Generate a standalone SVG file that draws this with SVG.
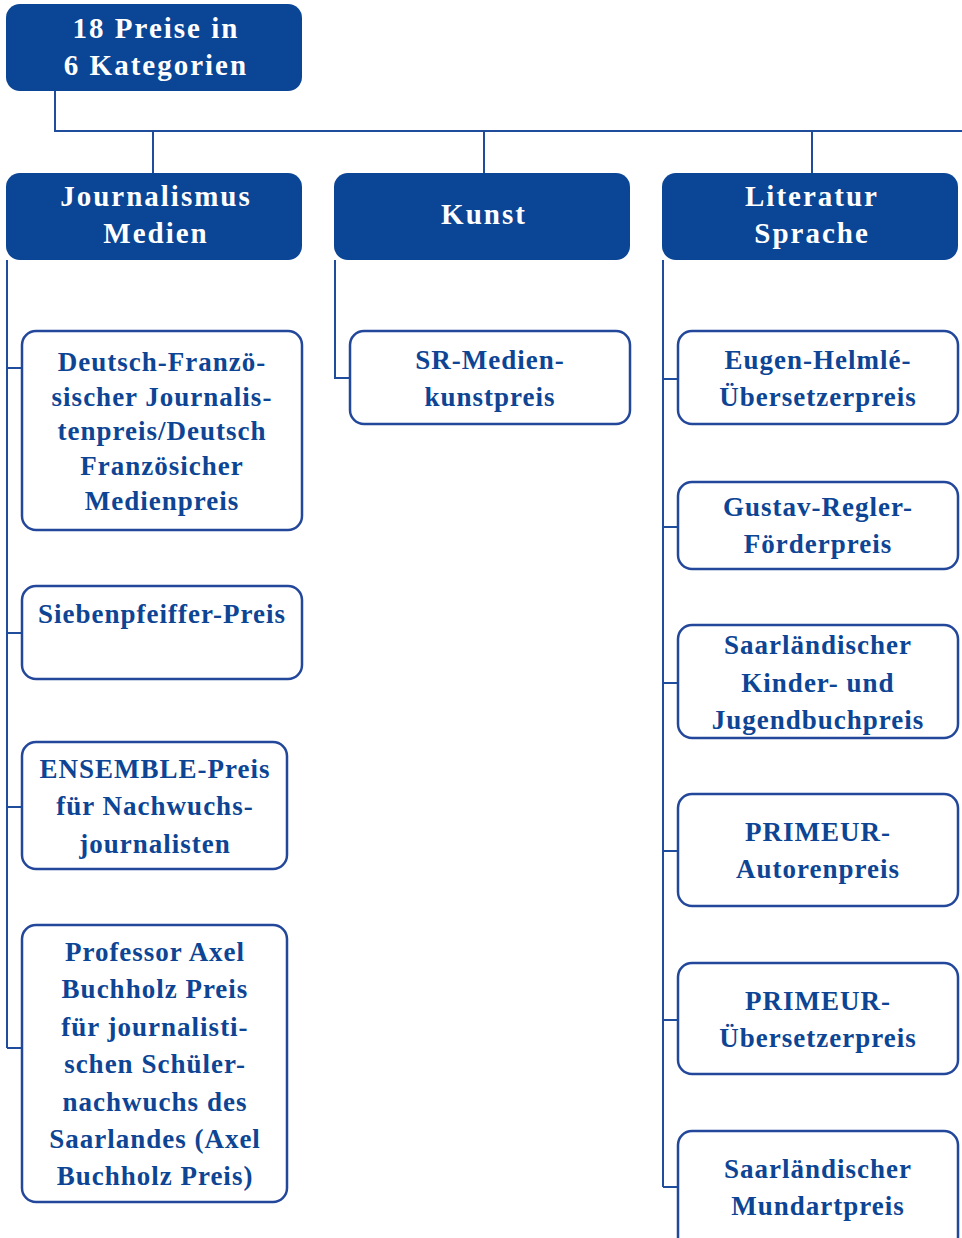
<svg xmlns="http://www.w3.org/2000/svg" width="962" height="1238" viewBox="0 0 962 1238">
<style>
.hdr{fill:#0b4595;}
.box{fill:#fff;stroke:#23479b;stroke-width:2.5;}
.ht{fill:#fff;font-family:"Liberation Serif",serif;font-weight:bold;font-size:29px;letter-spacing:2px;text-anchor:middle;}
.bt{fill:#0d4594;font-family:"Liberation Serif",serif;font-weight:bold;font-size:27px;letter-spacing:1px;text-anchor:middle;}
.ln{fill:none;stroke:#1f4d9c;stroke-width:2;}
</style>
<rect width="962" height="1238" fill="#fff"/>
<g id="connectors">
<path class="ln" d="M55,91 V131 H962"/>
<path class="ln" d="M153,131 V173 M484,131 V173 M812,131 V173"/>
<path class="ln" d="M7,260 V1048 M7,368 H22 M7,633 H22 M7,807 H22 M7,1048 H22"/>
<path class="ln" d="M335,260 V378 H350"/>
<path class="ln" d="M663,260 V1187 M663,379 H678 M663,527 H678 M663,683 H678 M663,851 H678 M663,1020 H678 M663,1187 H678"/>
</g>
<g id="root">
<rect class="hdr" x="6" y="4" width="296" height="87" rx="14"/>
<text class="ht" x="156" y="38">18 Preise in</text>
<text class="ht" x="156" y="75">6 Kategorien</text>
</g>
<g id="cat-journalismus">
<rect class="hdr" x="6" y="173" width="296" height="87" rx="14"/>
<text class="ht" x="156" y="206">Journalismus</text>
<text class="ht" x="156" y="243">Medien</text>
</g>
<g id="cat-kunst">
<rect class="hdr" x="334" y="173" width="296" height="87" rx="14"/>
<text class="ht" x="484" y="224">Kunst</text>
</g>
<g id="cat-literatur">
<rect class="hdr" x="662" y="173" width="296" height="87" rx="14"/>
<text class="ht" x="812" y="206">Literatur</text>
<text class="ht" x="812" y="243">Sprache</text>
</g>
<g id="dfj">
<rect class="box" x="22" y="331" width="280" height="199" rx="14"/>
<text class="bt" x="162" y="371">Deutsch-Franzö-</text>
<text class="bt" x="162" y="406">sischer Journalis-</text>
<text class="bt" x="162" y="440">tenpreis/Deutsch</text>
<text class="bt" x="162" y="475">Französicher</text>
<text class="bt" x="162" y="510">Medienpreis</text>
</g>
<g id="siebenpfeiffer">
<rect class="box" x="22" y="586" width="280" height="93" rx="14"/>
<text class="bt" x="162" y="623">Siebenpfeiffer-Preis</text>
</g>
<g id="ensemble">
<rect class="box" x="22" y="742" width="265" height="127" rx="14"/>
<text class="bt" x="155" y="778">ENSEMBLE-Preis</text>
<text class="bt" x="155" y="815">für Nachwuchs-</text>
<text class="bt" x="155" y="853">journalisten</text>
</g>
<g id="buchholz">
<rect class="box" x="22" y="925" width="265" height="277" rx="14"/>
<text class="bt" x="155" y="961">Professor Axel</text>
<text class="bt" x="155" y="998">Buchholz Preis</text>
<text class="bt" x="155" y="1036">für journalisti-</text>
<text class="bt" x="155" y="1073">schen Schüler-</text>
<text class="bt" x="155" y="1111">nachwuchs des</text>
<text class="bt" x="155" y="1148">Saarlandes (Axel</text>
<text class="bt" x="155" y="1185">Buchholz Preis)</text>
</g>
<g id="sr-medien">
<rect class="box" x="350" y="331" width="280" height="93" rx="14"/>
<text class="bt" x="490" y="369">SR-Medien-</text>
<text class="bt" x="490" y="406">kunstpreis</text>
</g>
<g id="helmle">
<rect class="box" x="678" y="331" width="280" height="93" rx="14"/>
<text class="bt" x="818" y="369">Eugen-Helmlé-</text>
<text class="bt" x="818" y="406">Übersetzerpreis</text>
</g>
<g id="regler">
<rect class="box" x="678" y="482" width="280" height="87" rx="14"/>
<text class="bt" x="818" y="516">Gustav-Regler-</text>
<text class="bt" x="818" y="553">Förderpreis</text>
</g>
<g id="kinderbuch">
<rect class="box" x="678" y="625" width="280" height="113" rx="14"/>
<text class="bt" x="818" y="654">Saarländischer</text>
<text class="bt" x="818" y="692">Kinder- und</text>
<text class="bt" x="818" y="729">Jugendbuchpreis</text>
</g>
<g id="primeur-autor">
<rect class="box" x="678" y="794" width="280" height="112" rx="14"/>
<text class="bt" x="818" y="841">PRIMEUR-</text>
<text class="bt" x="818" y="878">Autorenpreis</text>
</g>
<g id="primeur-uebersetzer">
<rect class="box" x="678" y="963" width="280" height="111" rx="14"/>
<text class="bt" x="818" y="1010">PRIMEUR-</text>
<text class="bt" x="818" y="1047">Übersetzerpreis</text>
</g>
<g id="mundart">
<rect class="box" x="678" y="1131" width="280" height="120" rx="14"/>
<text class="bt" x="818" y="1178">Saarländischer</text>
<text class="bt" x="818" y="1215">Mundartpreis</text>
</g>
</svg>
